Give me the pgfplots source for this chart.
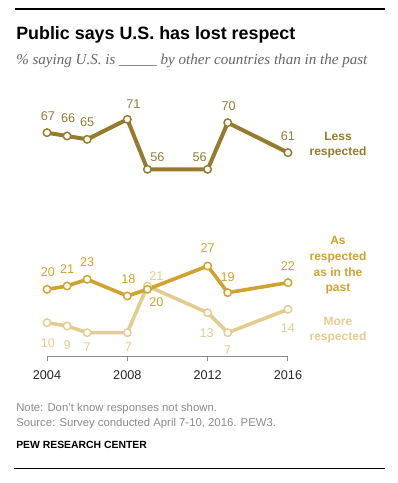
\documentclass[border=0pt]{standalone}
\usepackage{pgfplots}
\usepackage{pgfplotstable}
\pgfplotsset{compat=1.18}
\usepackage{fontspec}
\setmainfont{Liberation Sans}
\newfontfamily\subfont{Liberation Serif}
\definecolor{lessC}{HTML}{957B2B}
\definecolor{asC}{HTML}{D0A22E}
\definecolor{moreC}{HTML}{E3CC8E}
\definecolor{subC}{HTML}{666666}
\definecolor{noteC}{HTML}{8A8A8A}
\definecolor{axisC}{HTML}{8C8C8C}

\pgfplotstableread{
x y dx dy lab
2004 67 1 17 67
2005 66 1 18 66
2006 65 0 17 65
2008 71 6 15 71
2009 56 10 12 56
2012 56 -8 12 56
2013 70 1 17 70
2016 61 0 17 61
}\lessT
\pgfplotstableread{
x y dx dy lab
2004 20 1 17 20
2005 21 0 17 21
2006 23 0 17 23
2008 18 1 17 18
2009 20 9 -13 20
2012 27 0 18 27
2013 19 0 16 19
2016 22 0 17 22
}\asT
\pgfplotstableread{
x y dx dy lab
2004 10 1 -20 10
2005 9 0 -19 9
2006 7 0 -14 7
2008 7 1 -14 7
2009 21 9 10 21
2012 13 -1 -20 13
2013 7 0 -17 7
2016 14 0 -19 14
}\moreT

\begin{document}
\begin{tikzpicture}[x=0.75pt,y=0.75pt]
\path (0,0) rectangle (398,483);
\draw[line width=0.9pt] (15,474) -- (385,474);
\node[anchor=base west, inner sep=0, font=\fontsize{13.4}{15}\selectfont\bfseries] at (16,443) {Public says U.S. has lost respect};
\node[anchor=base west, inner sep=0, text=subC, font=\subfont\itshape\fontsize{11.3}{14}\selectfont] at (16,418) {\% saying U.S. is \_\_\_\_\_ by other countries than in the past};

\begin{axis}[
  at={(35.25pt,95.25pt)}, anchor=south west, scale only axis,
  width=180.75pt, height=177.5pt,
  xmin=2004, xmax=2016, ymin=0, ymax=71, clip=false,
  hide y axis, axis x line*=bottom,
  axis line style={draw=axisC, line width=0.75pt},
  xtick={2004,2008,2012,2016}, xticklabels={2004,2008,2012,2016},
  xtick align=outside, major tick length=3.75pt,
  tick style={draw=axisC, line width=0.75pt},
  xticklabel style={font=\fontsize{9.5}{11}\selectfont, text=black!85, yshift=-3.5pt},
  visualization depends on={\thisrow{dx} \as \dx},
  visualization depends on={\thisrow{dy} \as \dy},
  point meta=explicit symbolic,
  nodes near coords,
  mark size=2.8pt,
]
\addplot[draw=lessC, line width=3pt, mark=*, mark options={fill=white, draw=lessC, line width=1.1pt},
  nodes near coords style={anchor=center, xshift=\dx*0.75pt, yshift=\dy*0.75pt, font=\fontsize{9.5}{11}\selectfont, text=lessC!85!gray}]
  table[x=x, y=y, meta=lab] {\lessT};
\addplot[draw=moreC, line width=2.7pt, mark=*, mark options={fill=white, draw=moreC, line width=1.1pt},
  nodes near coords style={anchor=center, xshift=\dx*0.75pt, yshift=\dy*0.75pt, font=\fontsize{9.5}{11}\selectfont, text=moreC}]
  table[x=x, y=y, meta=lab] {\moreT};
\addplot[draw=asC, line width=2.7pt, mark=*, mark options={fill=white, draw=asC, line width=1.1pt},
  nodes near coords style={anchor=center, xshift=\dx*0.75pt, yshift=\dy*0.75pt, font=\fontsize{9.5}{11}\selectfont, text=asC}]
  table[x=x, y=y, meta=lab] {\asT};
\end{axis}

\node[align=center, inner sep=0, text=lessC, font=\fontsize{9}{11.7}\selectfont\bfseries] at (338,338) {Less\\respected};
\node[align=center, inner sep=0, text=asC, font=\fontsize{9}{11.7}\selectfont\bfseries] at (338,217.5) {As\\respected\\as in the\\past};
\node[align=center, inner sep=0, text=moreC, font=\fontsize{9}{11.7}\selectfont\bfseries] at (338,153) {More\\respected};

\node[anchor=base west, inner sep=0, text=noteC, font=\fontsize{8.5}{10}\selectfont] at (16,71) {Note: Don’t know responses not shown.};
\node[anchor=base west, inner sep=0, text=noteC, font=\fontsize{8.5}{10}\selectfont] at (16,56) {Source: Survey conducted April 7-10, 2016. PEW3.};
\node[anchor=base west, inner sep=0, font=\fontsize{7.8}{10}\selectfont\bfseries] at (16,35) {PEW RESEARCH CENTER};
\draw[line width=0.75pt] (14,14) -- (385,14);
\end{tikzpicture}
\end{document}
